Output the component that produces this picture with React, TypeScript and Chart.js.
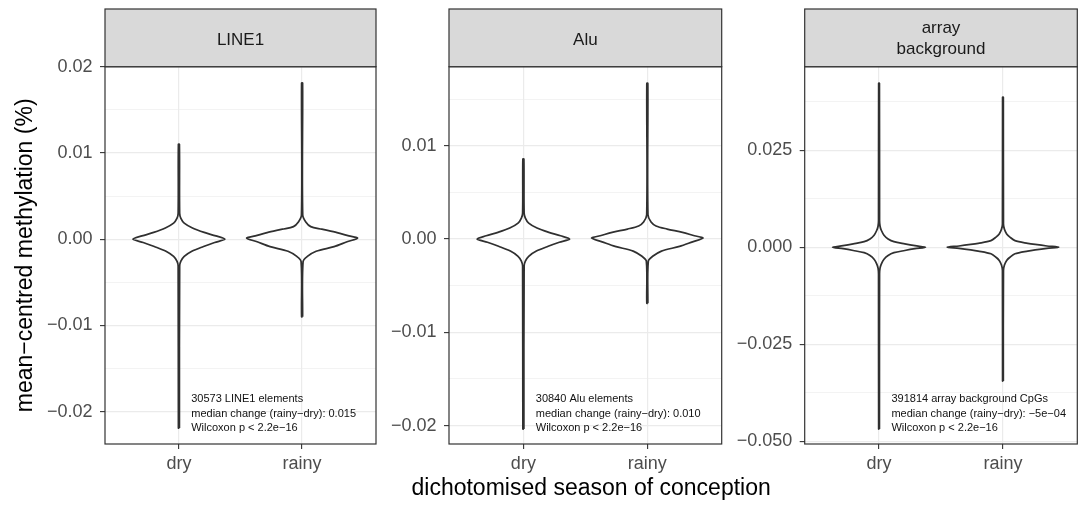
import { useEffect, useRef } from "react";
import { Chart, registerables } from "chart.js";

Chart.register(...registerables);

const FONT = "'Liberation Sans', Arial, Helvetica, sans-serif";

// Categories on each facet's x axis
const categories = ["dry", "rainy"];

// Facet strip titles (one entry per line)
const stripTitles = [["LINE1"], ["Alu"], ["array", "background"]];

// Annotation lines per facet
const notes = [
  ["30573 LINE1 elements", "median change (rainy\u2212dry): 0.015", "Wilcoxon p < 2.2e\u221216"],
  ["30840 Alu elements", "median change (rainy\u2212dry): 0.010", "Wilcoxon p < 2.2e\u221216"],
  ["391814 array background CpGs", "median change (rainy\u2212dry): \u22125e\u221204", "Wilcoxon p < 2.2e\u221216"],
];

// y-axis limits per facet
const yMin = [-0.02375, -0.02197, -0.05072];
const yMax = [0.02, 0.01847, 0.04652];

// Labelled y ticks and their labels
const majorTicks = [
  [-0.02, -0.01, 0, 0.01, 0.02],
  [-0.02, -0.01, 0, 0.01],
  [-0.05, -0.025, 0, 0.025],
];
const majorLabels = [
  ["\u22120.02", "\u22120.01", "0.00", "0.01", "0.02"],
  ["\u22120.02", "\u22120.01", "0.00", "0.01"],
  ["\u22120.050", "\u22120.025", "0.000", "0.025"],
];
// Unlabelled minor grid positions
const minorTicks = [
  [-0.015, -0.005, 0.005, 0.015],
  [-0.015, -0.005, 0.005, 0.015],
  [-0.0375, -0.0125, 0.0125, 0.0375],
];

// Violin outlines: methylation levels (bottom to top) and half-widths in category units
const line1DryY = [-0.0219, -0.0031, -0.00255, -0.002, -0.0014, -0.00085, -0.00038, 0, 0.00038, 0.00078, 0.0013, 0.00186, 0.0024, 0.003, 0.011];
const line1DryW = [0.004, 0.006, 0.016, 0.043, 0.105, 0.2, 0.29, 0.373, 0.3, 0.205, 0.11, 0.043, 0.016, 0.006, 0.004];
const line1RainyY = [-0.009, -0.0026, -0.002, -0.0014, -0.00086, -0.0003, 0.00012, 0.00038, 0.00077, 0.00116, 0.00146, 0.002, 0.0028, 0.0181];
const line1RainyW = [0.004, 0.008, 0.043, 0.114, 0.26, 0.365, 0.45, 0.38, 0.284, 0.16, 0.07, 0.03, 0.005, 0.004];

const aluDryY = [-0.02036, -0.0029, -0.00236, -0.00185, -0.00129, -0.00078, -0.00035, 0, 0.00035, 0.00072, 0.00118, 0.00171, 0.00225, 0.0028, 0.00857];
const aluDryW = [0.004, 0.006, 0.016, 0.043, 0.105, 0.2, 0.29, 0.373, 0.3, 0.205, 0.11, 0.043, 0.016, 0.006, 0.004];
const aluRainyY = [-0.00689, -0.00236, -0.00185, -0.00129, -0.00079, -0.0003, 0.0001, 0.00035, 0.00071, 0.00107, 0.0014, 0.00182, 0.0026, 0.01668];
const aluRainyW = [0.004, 0.008, 0.043, 0.114, 0.26, 0.365, 0.45, 0.38, 0.284, 0.16, 0.07, 0.03, 0.005, 0.004];

const bgDryY = [-0.04686, -0.0069, -0.0054, -0.0043, -0.0031, -0.00214, -0.00142, -0.00085, -0.00039, 0, 0.00039, 0.00085, 0.00142, 0.00214, 0.0031, 0.0043, 0.0054, 0.0069, 0.04224];
const bgDryW = [0.003, 0.004, 0.008, 0.019, 0.04, 0.073, 0.12, 0.208, 0.29, 0.375, 0.29, 0.208, 0.12, 0.073, 0.04, 0.019, 0.008, 0.004, 0.003];
const bgRainyY = [-0.03448, -0.006, -0.0046, -0.0034, -0.0026, -0.0017, -0.001, -0.0007, -0.00031, 0, 0.00031, 0.0007, 0.001, 0.0017, 0.0026, 0.0034, 0.0046, 0.006, 0.03863];
const bgRainyW = [0.003, 0.004, 0.012, 0.03, 0.056, 0.097, 0.2, 0.26, 0.355, 0.45, 0.355, 0.26, 0.2, 0.097, 0.056, 0.03, 0.012, 0.004, 0.003];

const violins = [
  [[line1DryY, line1DryW], [line1RainyY, line1RainyW]],
  [[aluDryY, aluDryW], [aluRainyY, aluRainyW]],
  [[bgDryY, bgDryW], [bgRainyY, bgRainyW]],
];

// Canvas placement and plot-area edges for each facet
const boxes = [
  { left: 0, width: 380, plotLeft: 105, padRight: 4 },
  { left: 380, width: 345, plotLeft: 69, padRight: 3.3 },
  { left: 725, width: 361, plotLeft: 79.7, padRight: 8.7 },
];
const HEIGHT = 505;
const PLOT_TOP = 66.7;
const PLOT_BOTTOM = 444;
const STRIP_H = 57.7;

function outline(center: number, ys: number[], ws: number[]) {
  const right = ys.map((y, i) => ({ x: center + ws[i], y }));
  const left = ys.map((y, i) => ({ x: center - ws[i], y })).reverse();
  return [...right, ...left, right[0]];
}

const facetDecor = {
  id: "facetDecor",
  afterDatasetsDraw(chart: any, _args: any, opts: any) {
    const { ctx, chartArea: a } = chart;
    const w = a.right - a.left;
    ctx.save();
    ctx.strokeStyle = "#333333";
    ctx.lineWidth = 1.2;
    ctx.strokeRect(a.left, a.top, w, a.bottom - a.top);
    const stripTop = a.top - STRIP_H;
    ctx.fillStyle = "#d9d9d9";
    ctx.fillRect(a.left, stripTop, w, STRIP_H);
    ctx.strokeRect(a.left, stripTop, w, STRIP_H);

    ctx.fillStyle = "#1a1a1a";
    ctx.font = `17px ${FONT}`;
    ctx.textAlign = "center";
    ctx.textBaseline = "alphabetic";
    const title: string[] = opts.title;
    const cx = (a.left + a.right) / 2;
    if (title.length === 1) {
      ctx.fillText(title[0], cx, stripTop + 36);
    } else {
      ctx.fillText(title[0], cx, stripTop + 24);
      ctx.fillText(title[1], cx, stripTop + 44.5);
    }

    const xs = chart.scales.x;
    const nx = xs.getPixelForValue(1.1);
    ctx.font = `11px ${FONT}`;
    ctx.textAlign = "left";
    ctx.textBaseline = "middle";
    ctx.fillStyle = "#111111";
    const lines: string[] = opts.note;
    lines.forEach((t, i) => ctx.fillText(t, nx, a.bottom - 44.7 + i * 14.2));
    ctx.restore();
  },
};

function makeConfig(p: number): any {
  const box = boxes[p];
  const labelFor = new Map<number, string>();
  majorTicks[p].forEach((v, i) => labelFor.set(v, majorLabels[p][i]));
  const allTicks = [...majorTicks[p], ...minorTicks[p]].sort((a, b) => a - b);
  const isMajor = (v: number) => labelFor.has(v);
  const tickFont = { family: FONT, size: 18 };

  const datasets = violins[p].map(([ys, ws], i) => ({
    data: outline(i + 1, ys, ws),
    showLine: true,
    fill: false,
    borderColor: "#303030",
    borderWidth: 1.75,
    borderJoinStyle: "round",
    tension: 0.3,
    pointRadius: 0,
    pointHoverRadius: 0,
  }));

  return {
    type: "scatter",
    data: { datasets },
    options: {
      animation: false,
      responsive: false,
      maintainAspectRatio: false,
      devicePixelRatio: 1,
      events: [],
      layout: { padding: { top: PLOT_TOP, right: box.padRight, left: 0, bottom: 0 } },
      plugins: {
        legend: { display: false },
        tooltip: { enabled: false },
        facetDecor: { title: stripTitles[p], note: notes[p] },
      },
      scales: {
        x: {
          type: "linear",
          min: 0.4,
          max: 2.6,
          afterBuildTicks: (s: any) => {
            s.ticks = categories.map((_, i) => ({ value: i + 1 }));
          },
          afterFit: (s: any) => {
            s.height = HEIGHT - PLOT_BOTTOM;
          },
          ticks: {
            autoSkip: false,
            maxRotation: 0,
            padding: 4,
            color: "#4d4d4d",
            font: tickFont,
            callback: (v: number) => categories[Math.round(v) - 1] ?? "",
          },
          grid: {
            color: "#ebebeb",
            lineWidth: 1.2,
            tickColor: "#333333",
            tickLength: 5,
            tickWidth: 1.1,
          },
          border: { display: false },
        },
        y: {
          type: "linear",
          min: yMin[p],
          max: yMax[p],
          afterBuildTicks: (s: any) => {
            s.ticks = allTicks.map((v) => ({ value: v }));
          },
          afterFit: (s: any) => {
            s.width = box.plotLeft;
          },
          ticks: {
            autoSkip: false,
            padding: 7.5,
            color: "#4d4d4d",
            font: tickFont,
            callback: (v: number) => labelFor.get(v) ?? "",
          },
          grid: {
            color: "#ebebeb",
            lineWidth: (c: any) => (c.tick && isMajor(c.tick.value) ? 1.2 : 0.6),
            tickColor: (c: any) => (c.tick && isMajor(c.tick.value) ? "#333333" : "rgba(0,0,0,0)"),
            tickLength: 5,
            tickWidth: 1.1,
          },
          border: { display: false },
          title: {
            display: p === 0,
            text: "mean\u2212centred methylation (%)",
            color: "#000000",
            font: { family: FONT, size: 23 },
            padding: { top: 12, bottom: 0 },
          },
        },
      },
    },
    plugins: [facetDecor],
  };
}

export default function App() {
  const c0 = useRef<HTMLCanvasElement>(null);
  const c1 = useRef<HTMLCanvasElement>(null);
  const c2 = useRef<HTMLCanvasElement>(null);
  const refs = [c0, c1, c2];

  useEffect(() => {
    const charts = refs.map((r, i) => new Chart(r.current as HTMLCanvasElement, makeConfig(i)));
    return () => charts.forEach((c) => c.destroy());
  }, []);

  return (
    <div
      style={{
        position: "absolute",
        left: 0,
        top: 0,
        width: 1086,
        height: HEIGHT,
        background: "#ffffff",
        fontFamily: FONT,
        overflow: "hidden",
      }}
    >
      {boxes.map((b, i) => (
        <canvas
          key={i}
          ref={refs[i]}
          width={b.width}
          height={HEIGHT}
          style={{ position: "absolute", left: b.left, top: 0, width: b.width, height: HEIGHT, display: "block" }}
        />
      ))}
      <div
        style={{
          position: "absolute",
          left: 105,
          width: 972.3,
          top: 475,
          textAlign: "center",
          fontSize: 23,
          lineHeight: "24px",
          color: "#000000",
          whiteSpace: "nowrap",
        }}
      >
        dichotomised season of conception
      </div>
    </div>
  );
}
